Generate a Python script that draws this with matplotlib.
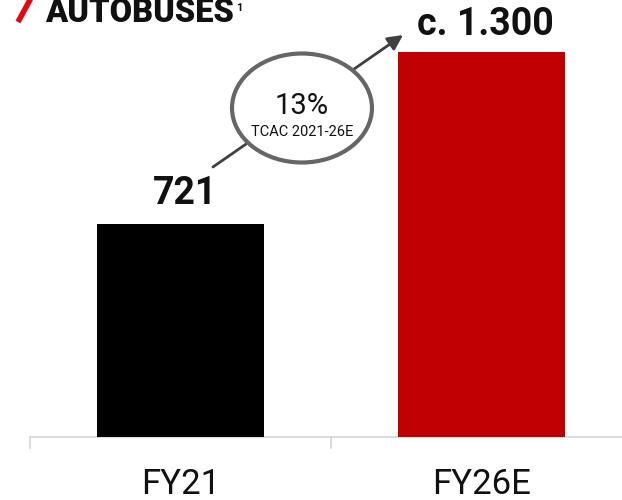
import matplotlib
matplotlib.use("Agg")
import matplotlib.pyplot as plt
from matplotlib.patches import Ellipse
from matplotlib.lines import Line2D

categories = ["FY21", "FY26E"]
values = [721, 1300]
value_labels = ["721", "c. 1.300"]
bar_colors = ["#000000", "#c00000"]
title = "AUTOBUSES"
growth_label = "13%"
growth_sub = "TCAC 2021-26E"

plt.rcParams["font.family"] = ["Roboto", "DejaVu Sans"]

fig = plt.figure(figsize=(6.22, 5.0), dpi=100)
ax = fig.add_axes([0, 0, 1, 1])
ax.set_xlim(-0.5997, 1.4668)
ax.set_ylim(-213, 1476)
ax.axis("off")

x = list(range(len(categories)))
ax.bar(x, values, width=0.558, color=bar_colors, zorder=2)

# baseline and category separators
grey = "#d4d4d4"
ax.plot([-0.5, 1.4668], [0, 0], color=grey, lw=1.2, zorder=1, clip_on=False)
for b in [-0.5, 0.5]:
    ax.plot([b, b], [0, -38], color=grey, lw=1.2, zorder=1)

# category labels
for xi, c in zip(x, categories):
    ax.annotate(c, (xi, 0), xytext=(0, -41), textcoords="offset points",
                ha="center", va="baseline", fontsize=25, fontweight="normal",
                color="#111111")

# value labels
offsets = [14, 12]
for xi, v, lab, off in zip(x, values, value_labels, offsets):
    ax.annotate(lab, (xi, v), xytext=(3, off), textcoords="offset points",
                ha="center", va="baseline", fontsize=27, fontweight="bold",
                color="#111111")

# growth arrow with ellipse badge
ax.annotate("", xy=(0.648, 0.93), xytext=(0.3424, 0.666),
            xycoords="axes fraction", textcoords="axes fraction",
            arrowprops=dict(arrowstyle="-|>,head_length=0.9,head_width=0.45",
                            color="#404040", lw=2, shrinkA=0, shrinkB=0),
            zorder=3)
ell = Ellipse((0.4855, 0.784), 0.225, 0.218, transform=ax.transAxes,
              facecolor="white", edgecolor="#666666", lw=3, zorder=4)
ax.add_patch(ell)
ax.text(0.4855, 0.788, growth_label, transform=ax.transAxes, ha="center",
        va="center", fontsize=21, fontweight="normal", color="#111111", zorder=5)
ax.text(0.4855, 0.737, growth_sub, transform=ax.transAxes, ha="center",
        va="center", fontsize=10.5, fontweight="normal", color="#111111", zorder=5)

# title with red slash and footnote marker
title_txt = ax.text(45 / 622, 1 - 22 / 500, title, transform=ax.transAxes,
                    ha="left", va="baseline", fontsize=23.5, fontweight="heavy",
                    color="#111111")
ax.annotate("1", xy=(1, 1 - 11 / 500), xycoords=(title_txt, ax.transAxes),
            xytext=(1.5, 0), textcoords="offset points", ha="left",
            va="baseline", fontsize=8, fontweight="bold", color="#111111")
fig.add_artist(Line2D([18 / 622, 31 / 622], [1 - 22 / 500, 1 + 2 / 500],
                      color="#e30613", lw=4, solid_capstyle="butt"))

fig.savefig("out.png", dpi=100)
